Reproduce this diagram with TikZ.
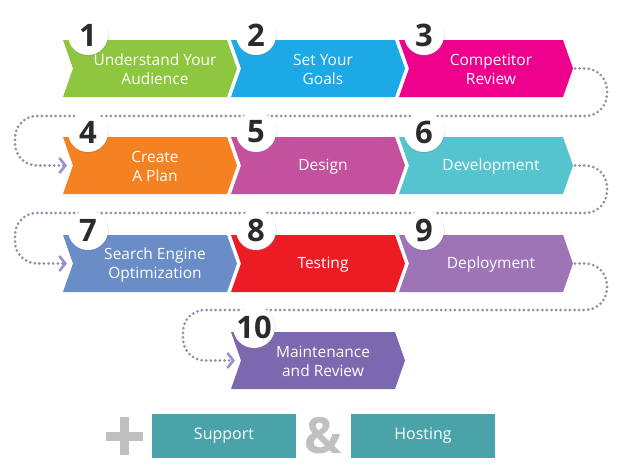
\documentclass[tikz,border=0pt]{standalone}
\usepackage{fontspec}
\setmainfont{Open Sans}
\usetikzlibrary{arrows.meta,shadows,backgrounds}

\definecolor{stepA}{HTML}{8DC63F}
\definecolor{stepB}{HTML}{1CA9E6}
\definecolor{stepC}{HTML}{EC008C}
\definecolor{stepD}{HTML}{F58220}
\definecolor{stepE}{HTML}{C4519E}
\definecolor{stepF}{HTML}{56C4CF}
\definecolor{stepG}{HTML}{6A8CC7}
\definecolor{stepH}{HTML}{ED1C24}
\definecolor{stepI}{HTML}{9D74B6}
\definecolor{stepJ}{HTML}{7B68AE}
\definecolor{boxteal}{HTML}{4AA3A8}
\definecolor{dotline}{HTML}{8E8EAE}
\definecolor{tipcol}{HTML}{9C8FD0}
\definecolor{numcol}{HTML}{2B2B2B}
\definecolor{signgray}{HTML}{C0C0C0}

% one chevron: #1 name, #2 left x, #3 top y, #4 colour, #5 label
\newcommand\stepchevron[5]{%
  \fill[#4] (#2,#3) -- ++(164,0) -- ++(10,28.5) -- ++(-10,28.5) -- ++(-164,0) -- ++(10,-28.5) -- cycle;
  \node[steptext] (#1) at (#2+92,#3+29.5) {#5};
  \coordinate (#1-in) at (#2+4,#3+28.5);
  \coordinate (#1-out) at (#2+176,#3+28.5);
}

\begin{document}
\begin{tikzpicture}[x=1pt,y=-1pt,
  steptext/.style={text=white,align=center,font=\fontsize{15.5}{19}\selectfont,inner sep=0pt},
  numcircle/.style={circle,fill=white,minimum size=40pt,inner sep=0pt,
    text=numcol,font=\fontsize{31}{31}\selectfont\bfseries,
    drop shadow={opacity=0.3,shadow xshift=0.6pt,shadow yshift=-1.2pt}},
  flow/.style={draw=dotline,line width=3pt,dash pattern=on 0pt off 4.6pt,line cap=round,
    rounded corners=22pt,
    -{Straight Barb[length=6pt,width=15pt,line width=2.6pt,color=tipcol]}},
  wide/.style={fill=boxteal,minimum width=144pt,minimum height=44pt,inner sep=0pt,
    text=white,font=\fontsize{16}{19}\selectfont}]

\useasboundingbox (0,0) rectangle (624,472);

% the ten steps
\stepchevron{s1}{63}{40}{stepA}{Understand Your\\Audience}
\stepchevron{s2}{231}{40}{stepB}{Set Your\\Goals}
\stepchevron{s3}{399}{40}{stepC}{Competitor\\Review}
\stepchevron{s4}{63}{137}{stepD}{Create\\A Plan}
\stepchevron{s5}{231}{137}{stepE}{Design}
\stepchevron{s6}{399}{137}{stepF}{Development}
\stepchevron{s7}{63}{235}{stepG}{Search Engine\\Optimization}
\stepchevron{s8}{231}{235}{stepH}{Testing}
\stepchevron{s9}{399}{235}{stepI}{Deployment}
\stepchevron{s10}{231}{332}{stepJ}{Maintenance\\and Review}

% page background and dotted links between rows, behind everything
\begin{scope}[on background layer]
  \fill[white] (0,0) rectangle (624,472);
  \draw[flow] (s3-out) -- (607,68.5) -- (607,116) -- (15,116) -- (15,165.5) -- (s4-in);
  \draw[flow] (s6-out) -- (607,165.5) -- (607,213) -- (15,213) -- (15,263.5) -- (s7-in);
  \draw[flow] (s9-out) -- (607,263.5) -- (607,310) -- (183,310) -- (183,360.5) -- (s10-in);
\end{scope}

% step numbers
\node[numcircle] (n1) at (88,35) {1};
\node[numcircle] (n2) at (256,35) {2};
\node[numcircle] (n3) at (424,35) {3};
\node[numcircle] (n4) at (88,132) {4};
\node[numcircle] (n5) at (256,132) {5};
\node[numcircle] (n6) at (424,132) {6};
\node[numcircle] (n7) at (88,230) {7};
\node[numcircle] (n8) at (256,230) {8};
\node[numcircle] (n9) at (424,230) {9};
\node[numcircle] (n10) at (254,327) {10};

% support and hosting
\fill[signgray] (106,431.5) rectangle (143,440.5);
\fill[signgray] (120,417) rectangle (129,455);
\node[wide] (sup) at (224,436) {Support};
\node[text=signgray,font=\fontsize{50}{50}\selectfont\bfseries,inner sep=0pt] (amp) at (323,436) {\&};
\node[wide] (host) at (423,436) {Hosting};
\end{tikzpicture}
\end{document}
